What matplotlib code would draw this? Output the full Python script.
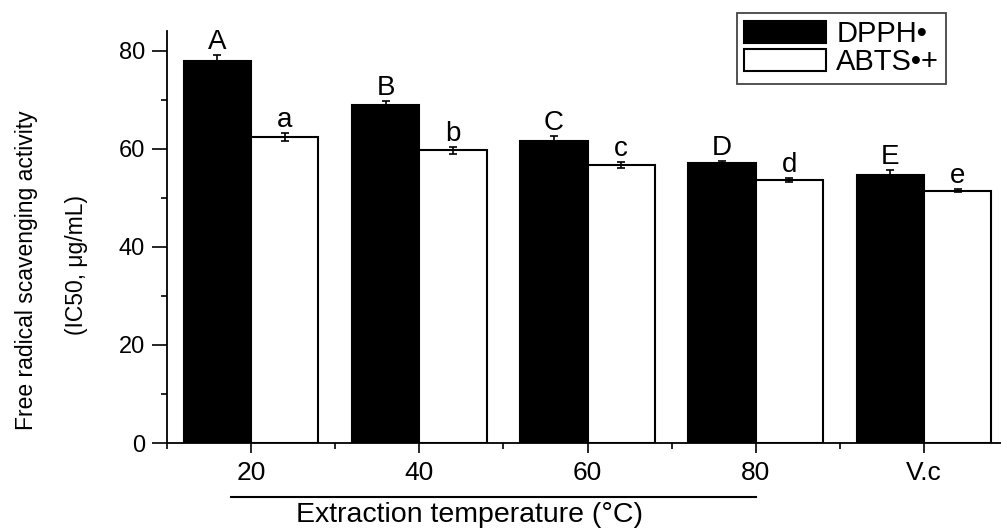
import numpy as np
import matplotlib
matplotlib.use('Agg')
import matplotlib.pyplot as plt
from matplotlib.ticker import MultipleLocator, FixedLocator

plt.rcParams['font.family'] = ['Liberation Sans', 'DejaVu Sans']

# Data
groups = ['20', '40', '60', '80', 'V.c']
dpph = [77.9, 69.0, 61.6, 57.0, 54.7]
dpph_err = [1.3, 0.8, 1.0, 0.5, 0.9]
abts = [62.4, 59.7, 56.6, 53.7, 51.4]
abts_err = [0.85, 0.7, 0.6, 0.4, 0.3]
dpph_letters = ['A', 'B', 'C', 'D', 'E']
abts_letters = ['a', 'b', 'c', 'd', 'e']

x = np.arange(1, len(groups) + 1)
w = 0.4

fig = plt.figure(figsize=(10.01, 5.29), dpi=100, facecolor='w')
ax = fig.add_axes([167 / 1001, 1 - 443 / 529, 841 / 1001, 412 / 529])

b1 = ax.bar(x - w / 2, dpph, width=w, color='black', edgecolor='black',
            linewidth=1.5, label='DPPH•')
b2 = ax.bar(x + w / 2, abts, width=w, color='white', edgecolor='black',
            linewidth=1.5, label='ABTS•+')
ax.errorbar(x - w / 2, dpph, yerr=dpph_err, fmt='none', ecolor='black',
            elinewidth=1.2, capsize=3, capthick=1.2)
ax.errorbar(x + w / 2, abts, yerr=abts_err, fmt='none', ecolor='black',
            elinewidth=1.2, capsize=3, capthick=1.2)

for xi, v, e, t in zip(x - w / 2, dpph, dpph_err, dpph_letters):
    ax.text(xi, v + e, t, ha='center', va='bottom', fontsize=20)
for xi, v, e, t in zip(x + w / 2, abts, abts_err, abts_letters):
    ax.text(xi, v + e, t, ha='center', va='bottom', fontsize=20)

# Axes decorations
ax.set_xlim(0.5, 5.5)
ax.set_ylim(0, 84)
ax.set_xticks(x)
ax.set_xticklabels(groups, fontsize=19)
ax.xaxis.set_minor_locator(FixedLocator(np.arange(0.5, 6.0, 1.0)))
ax.yaxis.set_major_locator(MultipleLocator(20))
ax.yaxis.set_minor_locator(MultipleLocator(10))
ax.tick_params(axis='y', which='major', length=11, width=1.2, labelsize=17, pad=5)
ax.tick_params(axis='y', which='minor', length=4, width=1.2)
ax.tick_params(axis='x', which='major', length=7, width=1.2, pad=6)
ax.tick_params(axis='x', which='minor', length=4, width=1.2)
for s in ['top', 'right']:
    ax.spines[s].set_visible(False)
for s in ['left', 'bottom']:
    ax.spines[s].set_linewidth(1.3)

# x label with line over it
ax.plot([0.88, 4.0], [-0.131, -0.131], transform=ax.get_xaxis_transform(),
        clip_on=False, color='black', lw=1.5)
fig.text(470 / 1001, 1 - 522 / 529, 'Extraction temperature (°C)',
         ha='center', va='baseline', fontsize=20.5)

# y label, two lines
fig.text(27 / 1001, 1 - 270 / 529, 'Free radical scavenging activity',
         rotation=90, ha='center', va='center', fontsize=16.5)
fig.text(76 / 1001, 1 - 265 / 529, '(IC50, μg/mL)',
         rotation=90, ha='center', va='center', fontsize=16.5)

leg = ax.legend(handles=[b1, b2], loc='upper left',
                bbox_to_anchor=(737 / 1001, 1 - 13 / 529),
                bbox_transform=fig.transFigure, borderaxespad=0,
                fontsize=21, fancybox=False, framealpha=1,
                edgecolor='#444444', handlelength=2.8, handleheight=0.8,
                handletextpad=0.35, labelspacing=0.0, borderpad=0.25)
leg.get_frame().set_linewidth(1.3)

plt.savefig('out.png', dpi=100)
